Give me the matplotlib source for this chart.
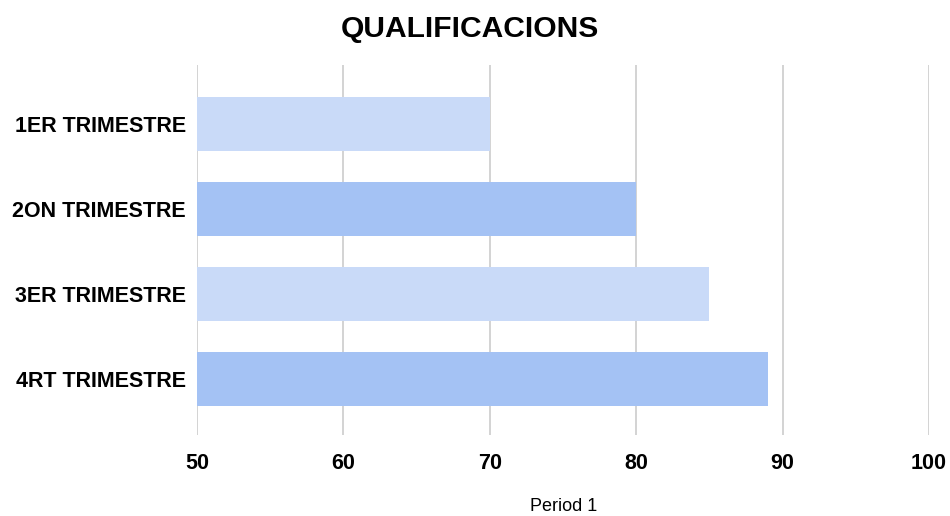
import matplotlib.pyplot as plt

plt.rcParams['font.family'] = ['Liberation Sans', 'DejaVu Sans']

# Data
periods = ['1ER TRIMESTRE', '2ON TRIMESTRE', '3ER TRIMESTRE', '4RT TRIMESTRE']
scores = [70, 80, 85, 89]
bar_colors = ['#c9daf8', '#a4c2f4', '#c9daf8', '#a4c2f4']
x_ticks = [50, 60, 70, 80, 90, 100]

fig = plt.figure(figsize=(9.5, 5.16), dpi=100)
ax = fig.add_axes([0.2074, 0.157, 0.7706, 0.717])

y = list(range(len(periods)))
base = x_ticks[0]
ax.barh(y, [s - base for s in scores], left=base, height=0.635,
        color=bar_colors, zorder=3)

ax.set_xlim(50, 100)
ax.set_ylim(3.66, -0.69)
ax.set_xticks(x_ticks)
ax.set_yticks(y)
ax.set_yticklabels(periods, fontsize=15.5, fontweight='bold')
ax.set_xticklabels([str(t) for t in x_ticks], fontsize=15.5, fontweight='bold')
ax.tick_params(length=0)
ax.tick_params(axis='x', pad=13)
ax.tick_params(axis='y', pad=8)

ax.grid(axis='x', color='#cccccc', linewidth=1.2, zorder=0)
for s in ax.spines.values():
    s.set_visible(False)

fig.text(0.495, 0.944, 'QUALIFICACIONS', ha='center', va='center',
         fontsize=21.6, fontweight='bold')
fig.text(0.5935, 0.018, 'Period 1', ha='center', va='center', fontsize=13)

fig.savefig('out.png', dpi=100)
